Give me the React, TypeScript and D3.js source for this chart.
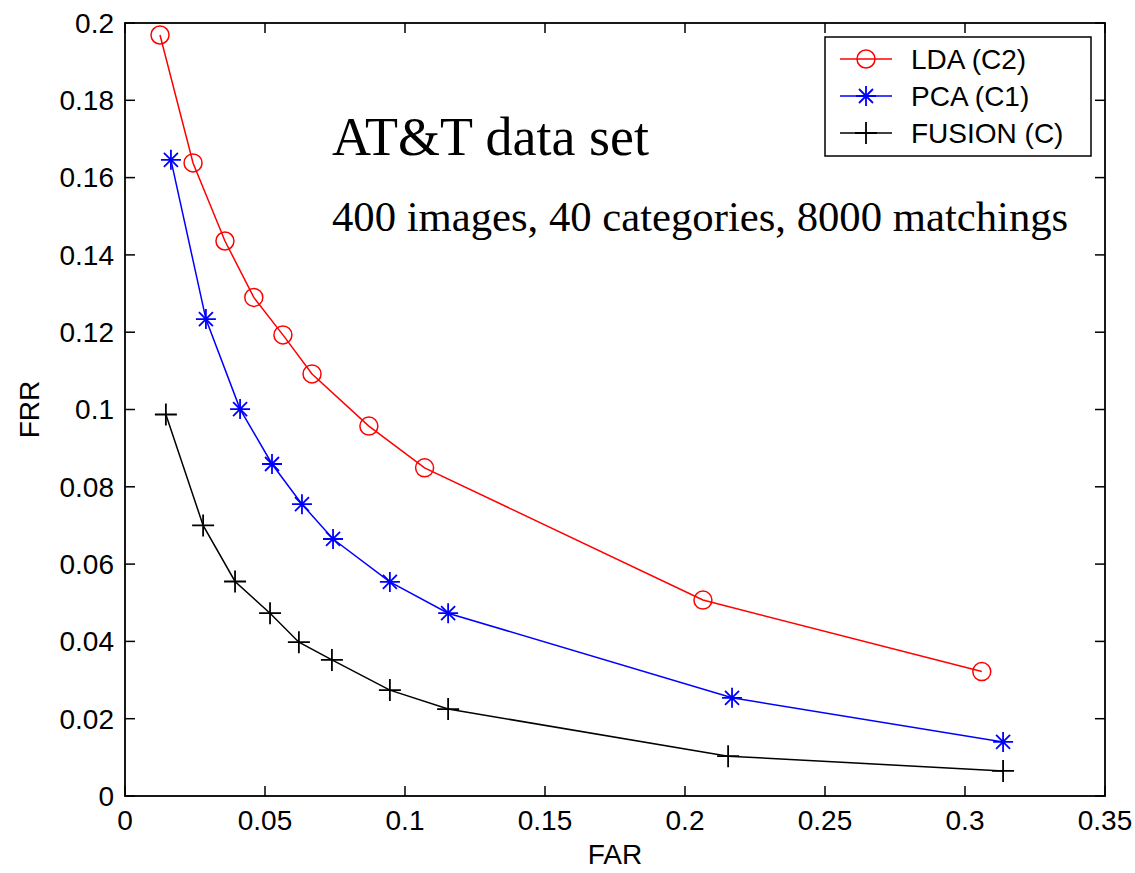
import React from "react"
import * as d3 from "d3"

// FAR / FRR values
const ldaFar = [0.0125, 0.0243, 0.0357, 0.046, 0.0564, 0.0668, 0.0871, 0.107, 0.2064, 0.306]
const ldaFrr = [0.1969, 0.1638, 0.1436, 0.129, 0.1193, 0.1092, 0.0957, 0.0849, 0.0507, 0.0322]

const pcaFar = [0.0164, 0.0289, 0.0411, 0.0525, 0.0632, 0.0743, 0.0946, 0.1154, 0.2168, 0.3136]
const pcaFrr = [0.1646, 0.1234, 0.1001, 0.0859, 0.0755, 0.0665, 0.0554, 0.0473, 0.0254, 0.0140]

const fusFar = [0.0146, 0.0279, 0.0393, 0.0518, 0.0621, 0.0739, 0.0946, 0.1154, 0.2154, 0.3136]
const fusFrr = [0.0987, 0.0700, 0.0555, 0.0473, 0.0398, 0.0352, 0.0274, 0.0225, 0.0103, 0.0065]

const seriesNames = ["LDA (C2)", "PCA (C1)", "FUSION (C)"]
const xTicks = [0, 0.05, 0.1, 0.15, 0.2, 0.25, 0.3, 0.35]
const yTicks = [0, 0.02, 0.04, 0.06, 0.08, 0.1, 0.12, 0.14, 0.16, 0.18, 0.2]

const W = 1135
const H = 873
const margin = { left: 125, right: 30, top: 23, bottom: 77 }
const sans = "'Liberation Sans', Arial, sans-serif"
const serif = "'Liberation Serif', 'Times New Roman', serif"

type Pt = [number, number]

// matlab-ish markers
function Marker({ kind, x, y, color }: { kind: string; x: number; y: number; color: string }) {
  if (kind === "o") return <circle cx={x} cy={y} r={9} fill="none" stroke={color} strokeWidth={1.5} />
  if (kind === "*") {
    const s = 10, d = 7
    return (
      <path
        d={`M${x - s},${y}H${x + s}M${x},${y - s}V${y + s}M${x - d},${y - d}L${x + d},${y + d}M${x - d},${y + d}L${x + d},${y - d}`}
        stroke={color} strokeWidth={1.8} fill="none" />
    )
  }
  const s = 11
  return <path d={`M${x - s},${y}H${x + s}M${x},${y - s}V${y + s}`} stroke={color} strokeWidth={1.8} fill="none" />
}

export default function App() {
  const x = d3.scaleLinear().domain([0, 0.35]).range([margin.left, W - margin.right])
  const y = d3.scaleLinear().domain([0, 0.2]).range([H - margin.bottom, margin.top])
  const x0 = x(0), x1 = x(0.35), y0 = y(0), y1 = y(0.2)

  const line = d3.line<Pt>().x((d) => x(d[0])).y((d) => y(d[1]))

  const series = [
    { name: seriesNames[0], color: "#ff0000", marker: "o", pts: ldaFar.map((v, i) => [v, ldaFrr[i]] as Pt) },
    { name: seriesNames[1], color: "#0000ff", marker: "*", pts: pcaFar.map((v, i) => [v, pcaFrr[i]] as Pt) },
    { name: seriesNames[2], color: "#000000", marker: "+", pts: fusFar.map((v, i) => [v, fusFrr[i]] as Pt) },
  ]

  const fmt = (v: number) => String(+v.toFixed(2))
  const tl = 10

  return (
    <svg width={W} height={H} style={{ position: "absolute", left: 0, top: 0, background: "#fff" }}>
      {/* ticks on all four sides */}
      <g stroke="#000" strokeWidth={1.5}>
        {xTicks.map((t) => (
          <g key={"x" + t}>
            <line x1={x(t)} x2={x(t)} y1={y0} y2={y0 - tl} />
            <line x1={x(t)} x2={x(t)} y1={y1} y2={y1 + tl} />
          </g>
        ))}
        {yTicks.map((t) => (
          <g key={"y" + t}>
            <line x1={x0} x2={x0 + tl} y1={y(t)} y2={y(t)} />
            <line x1={x1} x2={x1 - tl} y1={y(t)} y2={y(t)} />
          </g>
        ))}
      </g>
      <rect x={x0} y={y1} width={x1 - x0} height={y0 - y1} fill="none" stroke="#000" strokeWidth={1.8} />

      <g fontFamily={sans} fontSize={28} fill="#000">
        {xTicks.map((t) => (
          <text key={"xl" + t} x={x(t)} y={y0 + 34} textAnchor="middle">{fmt(t)}</text>
        ))}
        {yTicks.map((t) => (
          <text key={"yl" + t} x={x0 - 11} y={y(t)} dy="0.35em" textAnchor="end">{fmt(t)}</text>
        ))}
        <text x={(x0 + x1) / 2} y={864} textAnchor="middle">FAR</text>
        <text transform={`translate(39,${(y0 + y1) / 2}) rotate(-90)`} textAnchor="middle">FRR</text>
      </g>

      {series.map((s) => (
        <g key={s.name}>
          <path d={line(s.pts) ?? ""} fill="none" stroke={s.color} strokeWidth={1.5} />
          {s.pts.map((p, i) => (
            <Marker key={i} kind={s.marker} x={x(p[0])} y={y(p[1])} color={s.color} />
          ))}
        </g>
      ))}

      <text x={332} y={155} fontFamily={serif} fontSize={54} fill="#000">AT&amp;T data set</text>
      <text x={332} y={231} fontFamily={serif} fontSize={42.7} fill="#000">400 images, 40 categories, 8000 matchings</text>

      {/* legend */}
      <g>
        <rect x={825} y={37} width={266} height={119} fill="#fff" stroke="#000" strokeWidth={1.5} />
        {series.map((s, i) => {
          const ly = 59 + i * 37
          return (
            <g key={"lg" + s.name}>
              <line x1={840} x2={892} y1={ly} y2={ly} stroke={s.color} strokeWidth={1.5} />
              <Marker kind={s.marker} x={866} y={ly} color={s.color} />
              <text x={911} y={ly} dy="0.35em" fontFamily={sans} fontSize={28} fill="#000">{s.name}</text>
            </g>
          )
        })}
      </g>
    </svg>
  )
}
